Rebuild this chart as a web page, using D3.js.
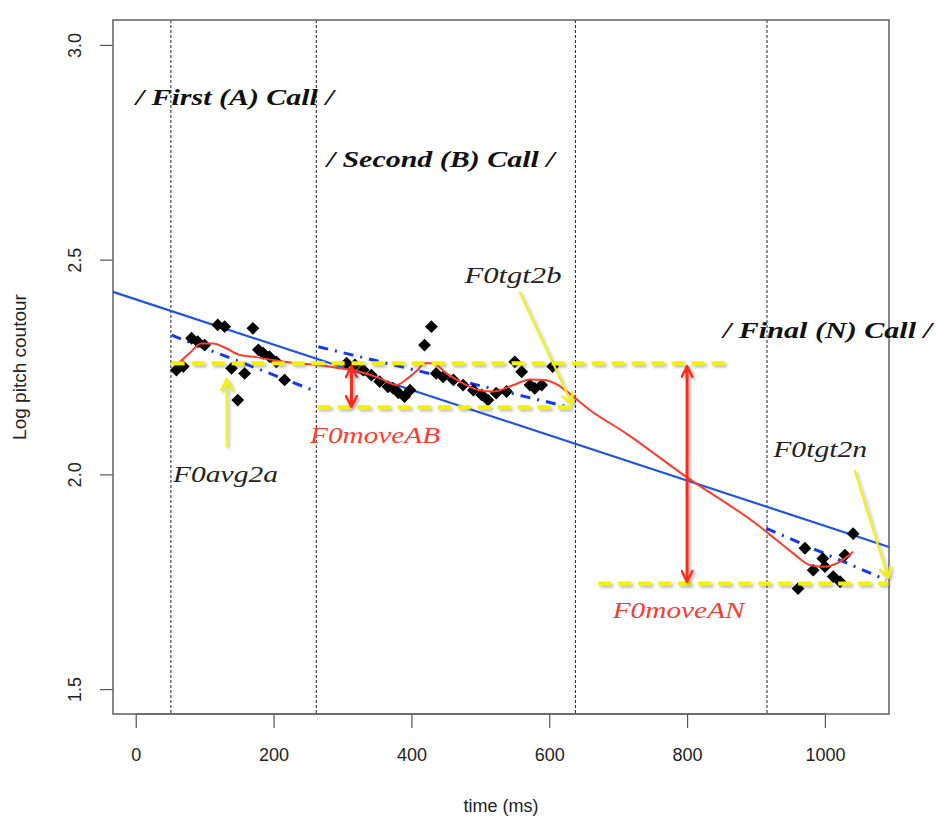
<!DOCTYPE html>
<html>
<head>
<meta charset="utf-8">
<script src="https://cdn.jsdelivr.net/npm/d3@7"></script>
<style>
  body { margin: 0; background: #fff; }
  svg { display: block; }
</style>
</head>
<body>
<svg id="chart" width="937" height="825"></svg>
<script>
// observed pitch points (time in ms, log F0)
const pointTime = [59, 69, 81, 90, 100, 119, 129, 139, 148, 158, 170, 178, 185, 194, 204, 216,
  306, 318, 330, 342, 354, 366, 373, 381, 390, 398, 419, 429, 436, 446, 461, 475, 490, 502, 511,
  523, 538, 550, 560, 572, 579, 589, 605,
  961, 971, 983, 997, 1000, 1012, 1022, 1029, 1041];
const pointF0 = [2.243, 2.251, 2.317, 2.309, 2.301, 2.348, 2.344, 2.247, 2.173, 2.235, 2.340, 2.290, 2.282, 2.274, 2.262, 2.220,
  2.259, 2.255, 2.243, 2.231, 2.216, 2.204, 2.201, 2.190, 2.181, 2.196, 2.301, 2.344, 2.235, 2.227, 2.220, 2.208, 2.196, 2.185, 2.173,
  2.189, 2.193, 2.262, 2.239, 2.208, 2.200, 2.208, 2.251,
  1.734, 1.828, 1.777, 1.804, 1.785, 1.762, 1.750, 1.812, 1.862];

// smoothed contour (red)
const smoothTime = [59, 78, 95, 112, 132, 151, 175, 204, 233, 262, 296, 325, 354, 378, 395, 409, 419, 431, 451,
  475, 499, 519, 548, 572, 594, 613, 635, 659, 712, 799, 906, 930, 954, 978, 998, 1022, 1041];
const smoothF0 = [2.255, 2.282, 2.305, 2.305, 2.293, 2.278, 2.273, 2.265, 2.259, 2.255, 2.247, 2.239, 2.224, 2.208, 2.224, 2.243, 2.259, 2.259, 2.235,
  2.212, 2.196, 2.193, 2.208, 2.221, 2.220, 2.208, 2.181, 2.150, 2.095, 1.994, 1.878, 1.847, 1.816, 1.789, 1.785, 1.797, 1.820];

// overall regression line (blue), ends at the plot edges
const overallFitTime = [-33, 1093];
const overallFitF0 = [2.425, 1.831];

// per-call regression segments (blue dot-dash)
const callFitTime = [[52, 257], [265, 630], [915, 1089]];
const callFitF0 = [[2.324, 2.196], [2.297, 2.156], [1.874, 1.754]];

// call boundaries (ms)
const boundaries = [51, 262, 638, 916];

// yellow reference levels
const levelTime = [[52, 864], [264, 637], [671, 1092]];
const levelF0 = [2.259, 2.156, 1.746];

// red double arrows
const moveTime = [313, 800];
const moveF0 = [[2.252, 2.157], [2.252, 1.750]];

// yellow pointer arrows [from, to]
const pointerTime = [[132, 132], [557, 633], [1043, 1092]];
const pointerF0 = [[2.064, 2.222], [2.425, 2.164], [2.010, 1.758]];

// text annotations
const callLabels = ['/ First (A) Call /', '/ Second (B) Call /', '/ Final (N) Call /'];
const callLabelTime = [0, 277, 852];
const callLabelF0 = [2.860, 2.716, 2.317];
const noteLabels = ['F0tgt2b', 'F0avg2a', 'F0moveAB', 'F0moveAN', 'F0tgt2n'];
const noteTime = [477, 54, 253, 692, 925];
const noteF0 = [2.446, 1.982, 2.073, 1.665, 2.040];
const noteRed = [false, false, true, true, false];

const xTicks = [0, 200, 400, 600, 800, 1000];
const yTicks = [1.5, 2.0, 2.5, 3.0];

const svg = d3.select('#chart');
const margin = { top: 20, right: 48, bottom: 111, left: 113 };
const width = 937, height = 825;

const x = d3.scaleLinear().domain([-33, 1093]).range([margin.left, width - margin.right]);
const y = d3.scaleLinear().domain([1.442, 3.058]).range([height - margin.bottom, margin.top]);

const defs = svg.append('defs');
const shadow = defs.append('filter').attr('id', 'shadow')
  .attr('x', '-20%').attr('y', '-20%').attr('width', '140%').attr('height', '140%');
shadow.append('feDropShadow')
  .attr('dx', 2).attr('dy', 2).attr('stdDeviation', 1.5)
  .attr('flood-color', '#555').attr('flood-opacity', 0.45);

function addHead(id, color) {
  defs.append('marker')
    .attr('id', id)
    .attr('viewBox', '0 0 12 12')
    .attr('refX', 11).attr('refY', 6)
    .attr('markerWidth', 13).attr('markerHeight', 13)
    .attr('markerUnits', 'userSpaceOnUse')
    .attr('orient', 'auto-start-reverse')
    .append('path')
    .attr('d', 'M1,1 L11,6 L1,11')
    .attr('fill', 'none')
    .attr('stroke', color)
    .attr('stroke-width', 2.2)
    .attr('stroke-linecap', 'round')
    .attr('stroke-linejoin', 'round');
}
addHead('headRed', '#ff2a12');
addHead('headYellow', '#f2f200');

// call boundaries
svg.append('g').selectAll('line')
  .data(boundaries)
  .join('line')
  .attr('x1', d => x(d)).attr('x2', d => x(d))
  .attr('y1', margin.top).attr('y2', height - margin.bottom)
  .attr('stroke', '#222')
  .attr('stroke-width', 1)
  .attr('stroke-dasharray', '3,2');

// axes
const xAxis = svg.append('g')
  .attr('transform', `translate(0,${height - margin.bottom})`)
  .call(d3.axisBottom(x).tickValues(xTicks).tickSize(14).tickPadding(20).tickFormat(d3.format('d')));
const yAxis = svg.append('g')
  .attr('transform', `translate(${margin.left},0)`)
  .call(d3.axisLeft(y).tickValues(yTicks).tickSize(13).tickPadding(0).tickFormat(d3.format('.1f')));
[xAxis, yAxis].forEach(a => {
  a.select('.domain').remove();
  a.selectAll('line').attr('stroke', '#555').attr('stroke-width', 1.2);
  a.selectAll('text')
    .attr('fill', '#222')
    .style('font-family', 'Liberation Sans, Arial, sans-serif')
    .style('font-size', '18px');
});
yAxis.selectAll('text')
  .attr('x', null).attr('dy', null)
  .attr('text-anchor', 'middle')
  .attr('transform', 'translate(-38,0) rotate(-90)')
  .attr('dominant-baseline', 'central');

// axis line (R style, tick range only)
svg.append('line')
  .attr('x1', x(0)).attr('x2', x(1000))
  .attr('y1', height - margin.bottom).attr('y2', height - margin.bottom)
  .attr('stroke', '#555').attr('stroke-width', 1.5);

// plot box
svg.append('rect')
  .attr('x', margin.left).attr('y', margin.top)
  .attr('width', width - margin.left - margin.right)
  .attr('height', height - margin.top - margin.bottom)
  .attr('fill', 'none')
  .attr('stroke', '#6a6a6a')
  .attr('stroke-width', 1.6);

// axis titles
svg.append('text')
  .attr('x', (margin.left + width - margin.right) / 2)
  .attr('y', 812)
  .attr('text-anchor', 'middle')
  .attr('fill', '#222')
  .style('font-family', 'Liberation Sans, Arial, sans-serif')
  .style('font-size', '18px')
  .text('time (ms)');
svg.append('text')
  .attr('transform', `translate(26,${(margin.top + height - margin.bottom) / 2}) rotate(-90)`)
  .attr('text-anchor', 'middle')
  .attr('fill', '#222')
  .style('font-family', 'Liberation Sans, Arial, sans-serif')
  .style('font-size', '19px')
  .text('Log pitch coutour');

// overall regression line
svg.append('line')
  .attr('x1', x(overallFitTime[0])).attr('y1', y(overallFitF0[0]))
  .attr('x2', x(overallFitTime[1])).attr('y2', y(overallFitF0[1]))
  .attr('stroke', '#1f52e8')
  .attr('stroke-width', 2.2);

// per-call regression segments
svg.append('g').selectAll('line')
  .data(callFitTime)
  .join('line')
  .attr('x1', d => x(d[0])).attr('x2', d => x(d[1]))
  .attr('y1', (d, i) => y(callFitF0[i][0])).attr('y2', (d, i) => y(callFitF0[i][1]))
  .attr('stroke', '#1238f0')
  .attr('stroke-width', 3)
  .attr('stroke-dasharray', '10,7,2,7');

// pitch points
const points = pointTime.map((t, i) => [t, pointF0[i]]);
svg.append('g').selectAll('path')
  .data(points)
  .join('path')
  .attr('transform', d => `translate(${x(d[0])},${y(d[1])}) rotate(45)`)
  .attr('d', d3.symbol(d3.symbolSquare, 82))
  .attr('fill', '#000');

// smoothed contour
const smooth = smoothTime.map((t, i) => [t, smoothF0[i]]);
svg.append('path')
  .datum(smooth)
  .attr('fill', 'none')
  .attr('stroke', '#ff3b2a')
  .attr('stroke-width', 2)
  .attr('d', d3.line().x(d => x(d[0])).y(d => y(d[1])).curve(d3.curveMonotoneX));

// yellow level lines
const yellow = svg.append('g').attr('filter', 'url(#shadow)');
yellow.selectAll('line.level')
  .data(levelTime)
  .join('line')
  .attr('class', 'level')
  .attr('x1', d => x(d[0])).attr('x2', d => x(d[1]))
  .attr('y1', (d, i) => y(levelF0[i])).attr('y2', (d, i) => y(levelF0[i]))
  .attr('stroke', '#f2f200')
  .attr('stroke-width', 4)
  .attr('stroke-dasharray', '13,7');

// yellow pointers
yellow.selectAll('line.pointer')
  .data(pointerTime)
  .join('line')
  .attr('class', 'pointer')
  .attr('x1', d => x(d[0])).attr('x2', d => x(d[1]))
  .attr('y1', (d, i) => y(pointerF0[i][0])).attr('y2', (d, i) => y(pointerF0[i][1]))
  .attr('stroke', '#f2f200')
  .attr('stroke-width', 2)
  .attr('marker-end', 'url(#headYellow)');

// red double arrows
svg.append('g').attr('filter', 'url(#shadow)')
  .selectAll('line')
  .data(moveTime)
  .join('line')
  .attr('x1', d => x(d)).attr('x2', d => x(d))
  .attr('y1', (d, i) => y(moveF0[i][0])).attr('y2', (d, i) => y(moveF0[i][1]))
  .attr('stroke', '#ff2a12')
  .attr('stroke-width', 3)
  .attr('marker-start', 'url(#headRed)')
  .attr('marker-end', 'url(#headRed)');

// call labels
const callWidths = [198, 228, 209];
svg.append('g').selectAll('text')
  .data(callLabels)
  .join('text')
  .attr('x', (d, i) => x(callLabelTime[i]))
  .attr('y', (d, i) => y(callLabelF0[i]))
  .attr('textLength', (d, i) => callWidths[i])
  .attr('lengthAdjust', 'spacingAndGlyphs')
  .attr('fill', '#111')
  .style('font-family', 'Liberation Serif, Times New Roman, serif')
  .style('font-style', 'italic')
  .style('font-weight', 'bold')
  .style('font-size', '23px')
  .text(d => d);

// note labels
const noteWidths = [97, 105, 130, 132, 94];
svg.append('g').selectAll('text')
  .data(noteLabels)
  .join('text')
  .attr('x', (d, i) => x(noteTime[i]))
  .attr('y', (d, i) => y(noteF0[i]))
  .attr('textLength', (d, i) => noteWidths[i])
  .attr('lengthAdjust', 'spacingAndGlyphs')
  .attr('fill', (d, i) => noteRed[i] ? '#ff3a30' : '#222')
  .style('font-family', 'Liberation Serif, Times New Roman, serif')
  .style('font-style', 'italic')
  .style('font-size', '24px')
  .text(d => d);
</script>
</body>
</html>
